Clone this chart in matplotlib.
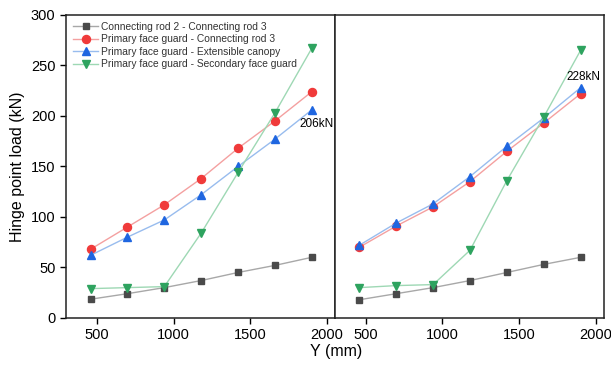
import matplotlib.pyplot as plt

plt.rcParams['font.family'] = ['Liberation Sans', 'DejaVu Sans']

y_mm = [460, 700, 940, 1180, 1420, 1660, 1900]

# lijevi panel
rod_lijevo = [18.5, 24, 30, 37, 45, 52, 60]
rod3_lijevo = [68, 90, 112, 138, 168, 195, 224]
canopy_lijevo = [62, 80, 97, 122, 150, 177, 206]
sec_lijevo = [29, 30, 31, 84, 144, 203, 267]

# desni panel
rod_desno = [18, 24, 30, 37, 45, 53, 60]
rod3_desno = [70, 91, 110, 135, 165, 193, 222]
canopy_desno = [72, 94, 113, 140, 170, 198, 228]
sec_desno = [30, 32, 33, 67, 136, 199, 265]

labels = ['Connecting rod 2 - Connecting rod 3',
          'Primary face guard - Connecting rod 3',
          'Primary face guard - Extensible canopy',
          'Primary face guard - Secondary face guard']

stil = [
    dict(marker='s', ms=4.8, mfc='#4a4a4a', mec='#4a4a4a', color='#a8a8a8'),
    dict(marker='o', ms=5.8, mfc='#f03a3a', mec='#f03a3a', color='#f4a0a0'),
    dict(marker='^', ms=6.3, mfc='#1f66e0', mec='#1f66e0', color='#98bcee'),
    dict(marker='v', ms=6.3, mfc='#2ea35f', mec='#2ea35f', color='#9ed8b4'),
]

fig = plt.figure(figsize=(6.11, 3.65), dpi=100)
ax1 = fig.add_axes([0.108, 0.129, 0.440, 0.830])
ax2 = fig.add_axes([0.548, 0.129, 0.440, 0.830])

for ax, serije in [(ax1, [rod_lijevo, rod3_lijevo, canopy_lijevo, sec_lijevo]),
                   (ax2, [rod_desno, rod3_desno, canopy_desno, sec_desno])]:
    for s, st, lab in zip(serije, stil, labels):
        ax.plot(y_mm, s, lw=1, label=lab, **st)
    ax.set_xlim(300, 2050)
    ax.set_ylim(0, 300)
    ax.set_xticks([500, 1000, 1500, 2000])
    ax.tick_params(direction='out', labelsize=10.5, length=4, width=1)
    for sp in ax.spines.values():
        sp.set_linewidth(1.1)
        sp.set_color('#222222')

ax1.set_yticks([0, 50, 100, 150, 200, 250, 300])
ax2.set_yticks([])
ax1.set_ylabel('Hinge point load (kN)', fontsize=11.5)
fig.text(0.55, 0.025, 'Y (mm)', ha='center', fontsize=11.5)

leg = ax1.legend(loc='upper left', frameon=False, fontsize=7.4, handlelength=2.5,
                 borderaxespad=0.25, labelspacing=0.25, handletextpad=0.3)
for t in leg.get_texts():
    t.set_color('#333333')

ax1.text(1930, 192, '206kN', ha='center', va='center', fontsize=8.5)
ax2.text(1920, 239, '228kN', ha='center', va='center', fontsize=8.5)

plt.savefig('out.png', dpi=100)
